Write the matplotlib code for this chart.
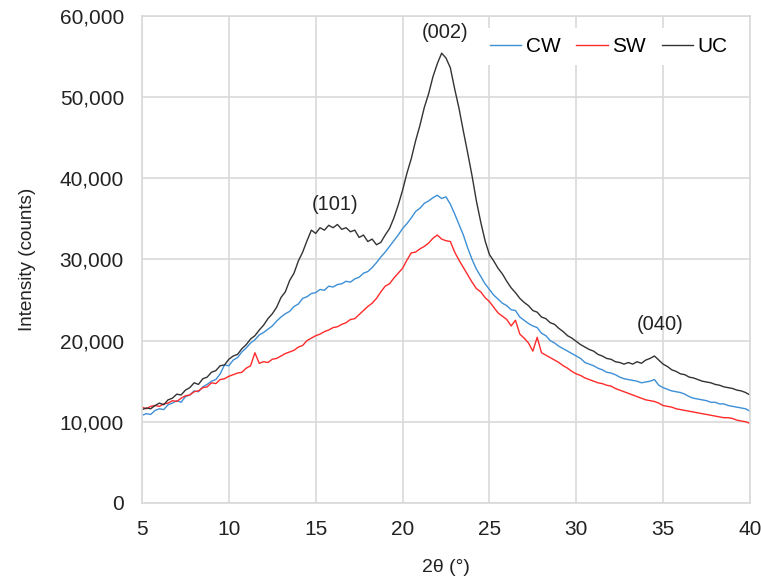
import numpy as np
import matplotlib
matplotlib.use("Agg")
import matplotlib.pyplot as plt

plt.rcParams['font.family'] = ['Liberation Sans', 'DejaVu Sans']

# 2theta sampled every 0.25 deg from 5 to 40
start, step = 5.0, 0.25

# UC (uncoated) counts
uc = [11500, 11700, 11600, 12000, 12300, 12100, 12700, 12900,
      13400, 13300, 13900, 14200, 14800, 14600, 15300, 15500,
      16100, 16300, 16900, 17000, 17700, 18100, 18300, 19000,
      19500, 20200, 20600, 21300, 21900, 22700, 23300, 24100,
      25300, 26000, 27400, 28300, 29800, 30900, 32300, 33600,
      33200, 33900, 33600, 34200, 33900, 34300, 33700, 33900,
      33400, 33600, 32700, 33000, 32200, 32500, 31800, 32100,
      33000, 33800, 35100, 36700, 38500, 40600, 42400, 44600,
      46500, 48700, 50400, 52500, 54100, 55400, 54800, 53600,
      51000, 48600, 45800, 43100, 40300, 37200, 34600, 32300,
      30600, 29800, 28900, 28200, 27300, 26500, 25900, 25200,
      24700, 24300, 23700, 23500, 22900, 22700, 22200, 22000,
      21500, 21100, 20600, 20300, 19900, 19500, 19200, 18900,
      18700, 18300, 18100, 17800, 17700, 17400, 17300, 17100,
      17300, 17100, 17400, 17200, 17600, 17800, 18100, 17600,
      17100, 16800, 16400, 16200, 15900, 15800, 15500, 15400,
      15200, 15000, 14900, 14800, 14600, 14500, 14300, 14200,
      14100, 13900, 13800, 13600, 13300]

# CW counts
cw = [10800, 11000, 10900, 11400, 11600, 11500, 12100, 12300,
      12600, 12400, 13100, 13300, 13800, 13700, 14300, 14600,
      15000, 15200, 15900, 17000, 16900, 17600, 17900, 18600,
      19100, 19700, 20100, 20700, 21000, 21400, 21800, 22400,
      22900, 23300, 23600, 24200, 24500, 25200, 25400, 25800,
      25900, 26300, 26200, 26700, 26600, 26900, 27000, 27300,
      27200, 27600, 27800, 28300, 28500, 29000, 29600, 30300,
      30900, 31600, 32300, 33000, 33800, 34400, 35100, 35900,
      36300, 36900, 37200, 37600, 37900, 37500, 37700, 36800,
      35600, 34300, 33000, 31400, 30000, 28800, 27900, 27000,
      26300, 25600, 25100, 24600, 24300, 23800, 23700, 22900,
      22500, 22100, 21800, 21600, 20900, 20600, 20000, 19700,
      19300, 19000, 18700, 18400, 18100, 17800, 17300, 17100,
      16900, 16600, 16400, 16100, 16000, 15800, 15500, 15300,
      15200, 15100, 15000, 14800, 14900, 15000, 15200, 14500,
      14200, 14000, 13800, 13700, 13600, 13400, 13100, 12900,
      12800, 12700, 12600, 12400, 12400, 12200, 12200, 12000,
      11900, 11800, 11700, 11600, 11300]

# SW counts
sw = [11800, 11600, 11900, 12000, 11900, 12200, 12300, 12600,
      12500, 12900, 13200, 13300, 13700, 13800, 14200, 14300,
      14800, 14700, 15200, 15300, 15600, 15800, 16000, 16100,
      16600, 16900, 18500, 17200, 17400, 17300, 17700, 17800,
      18100, 18400, 18600, 18800, 19200, 19400, 20000, 20300,
      20600, 20800, 21100, 21300, 21600, 21700, 22000, 22200,
      22600, 22700, 23200, 23700, 24200, 24600, 25200, 26000,
      26700, 27000, 27700, 28300, 28900, 29900, 30800, 30900,
      31300, 31600, 32000, 32600, 33000, 32500, 32300, 32200,
      30900, 29900, 29000, 28100, 27200, 26400, 26000, 25300,
      24800, 24100, 23400, 23000, 22600, 21800, 22500, 20800,
      20300, 19700, 18700, 20400, 18500, 18200, 17900, 17600,
      17300, 16900, 16600, 16200, 15900, 15700, 15400, 15200,
      15000, 14800, 14700, 14500, 14400, 14100, 13900, 13700,
      13500, 13300, 13100, 12900, 12700, 12600, 12500, 12300,
      12000, 11900, 11800, 11600, 11500, 11400, 11300, 11200,
      11100, 11000, 10900, 10800, 10700, 10600, 10500, 10500,
      10400, 10200, 10100, 10000, 9800]

peak_labels = ['(101)', '(002)', '(040)']
peak_x = [16.1, 22.45, 34.8]
peak_y = [36800, 58000, 22000]

two_theta = start + step * np.arange(len(uc))

fig = plt.figure(figsize=(7.61, 5.81), dpi=100)
ax = fig.add_axes([0.1866, 0.1343, 0.7989, 0.8385])

ax.plot(two_theta, cw, color='#3d8fd6', lw=1.0, label='CW')
ax.plot(two_theta, sw, color='#ff2a2a', lw=1.0, label='SW')
ax.plot(two_theta, uc, color='#333333', lw=1.0, label='UC')

for lab, px, py in zip(peak_labels, peak_x, peak_y):
    ax.text(px, py, lab, ha='center', va='center', fontsize=14.5, color='#222222')

ax.set_xlim(5, 40)
ax.set_ylim(0, 60000)
ax.set_xticks(np.arange(5, 41, 5))
ax.set_yticks(np.arange(0, 60001, 10000))
ax.yaxis.set_major_formatter(matplotlib.ticker.StrMethodFormatter('{x:,.0f}'))
ax.tick_params(length=0, labelsize=15, colors='#222222')
ax.tick_params(axis='y', pad=13)
ax.tick_params(axis='x', pad=12)
ax.grid(True, color='#d9d9d9', lw=1.2)
ax.set_axisbelow(True)
for s in ax.spines.values():
    s.set_color('#d9d9d9')
    s.set_linewidth(1.2)

ax.set_xlabel('2θ (°)', fontsize=14, labelpad=15, color='#222222')
ax.set_ylabel('Intensity (counts)', fontsize=13.6, labelpad=17, color='#222222')

leg = ax.legend(loc='upper right', bbox_to_anchor=(0.995, 0.997), ncol=3,
                fontsize=15, frameon=True, framealpha=1, facecolor='white',
                edgecolor='none', handlelength=1.5, handletextpad=0.2,
                columnspacing=0.77, borderpad=0.45, fancybox=False)

fig.savefig('out.png', dpi=100)
